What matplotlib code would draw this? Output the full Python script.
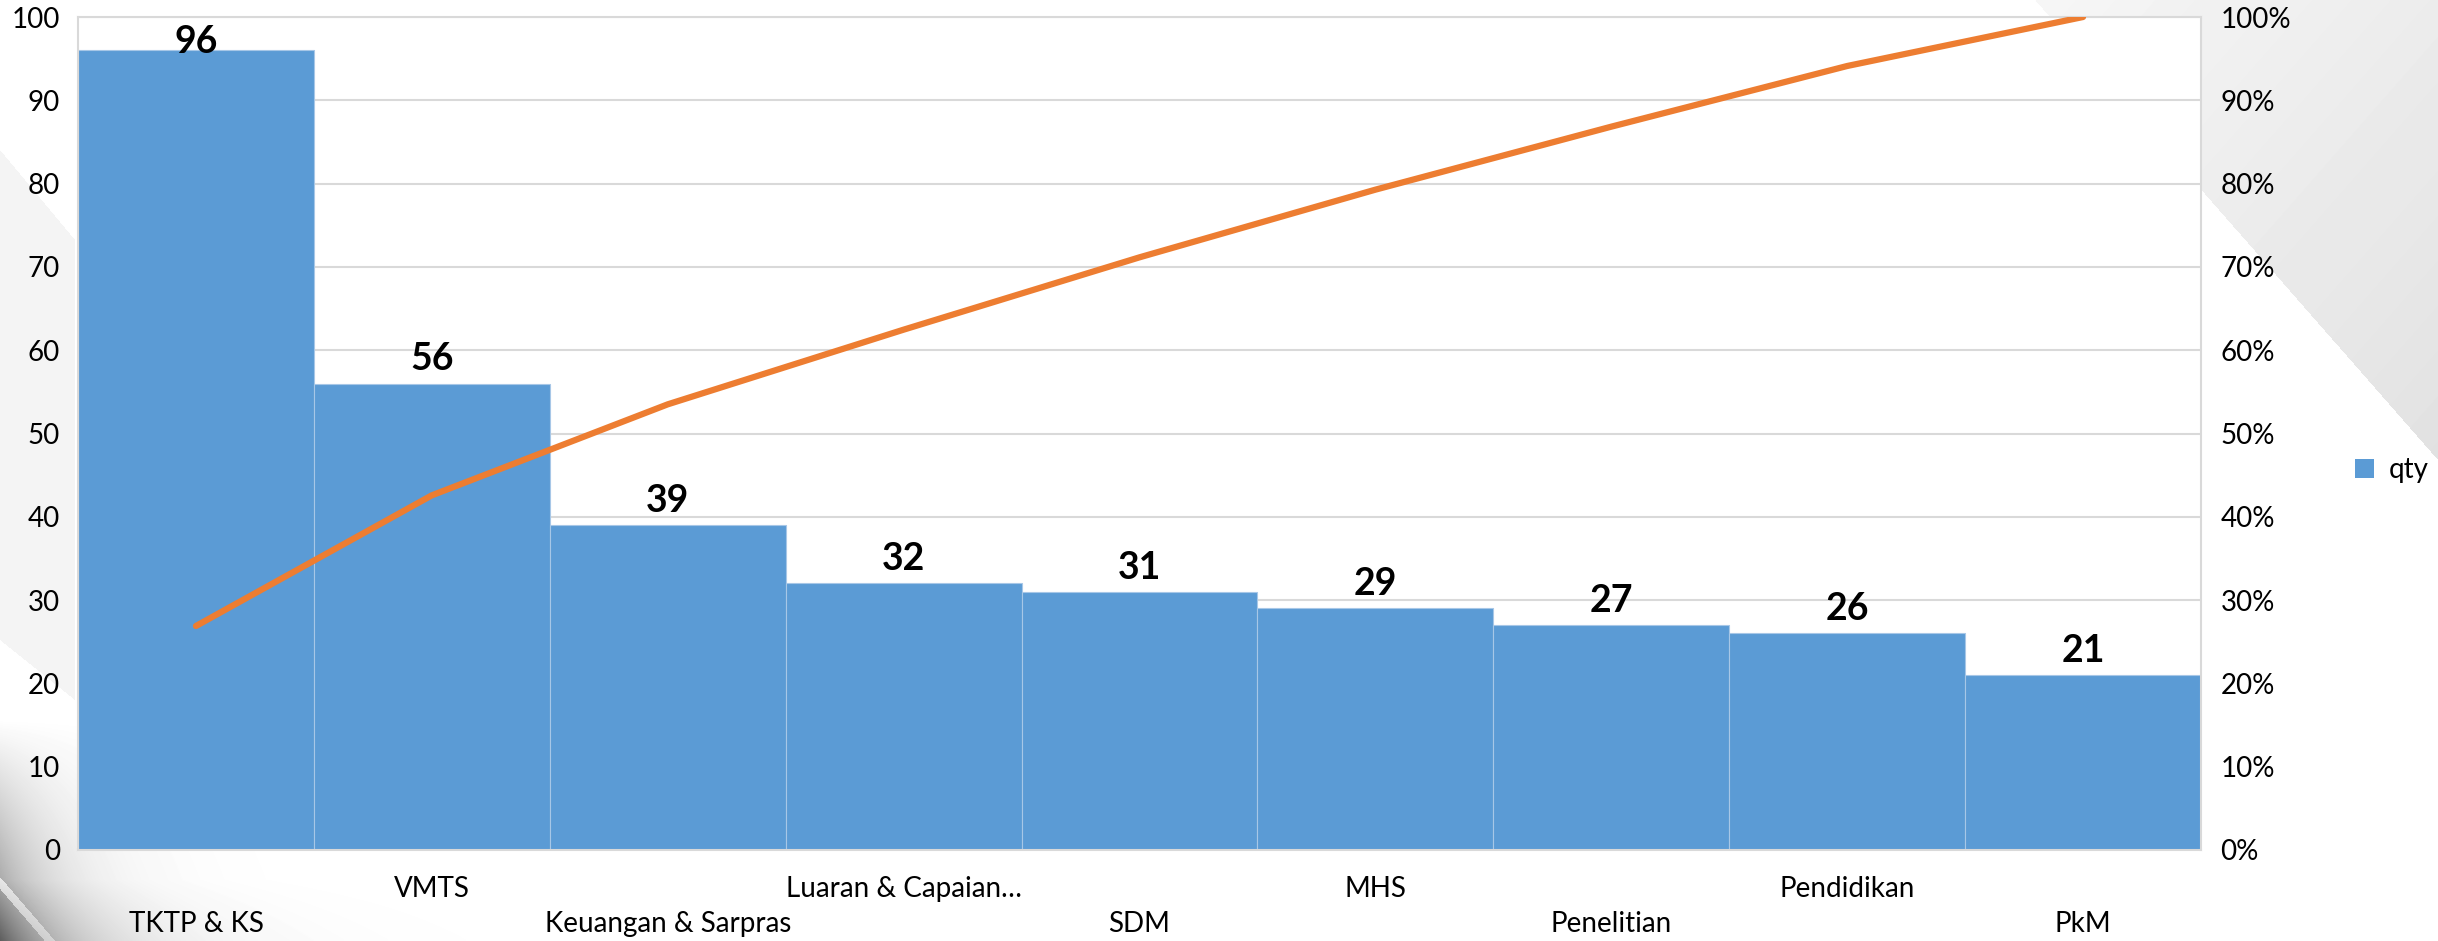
import numpy as np
import matplotlib.pyplot as plt
from matplotlib.patches import Patch
from matplotlib.ticker import PercentFormatter

# data
categories = ['TKTP & KS', 'VMTS', 'Keuangan & Sarpras', 'Luaran & Capaian…',
              'SDM', 'MHS', 'Penelitian', 'Pendidikan', 'PkM']
qty = [96, 56, 39, 32, 31, 29, 27, 26, 21]

BAR_COLOR = '#5B9BD5'
LINE_COLOR = '#ED7D31'
GRID_COLOR = '#D9D9D9'

plt.rcParams['font.family'] = ['Lato', 'DejaVu Sans']

W, H = 2438, 941
fig = plt.figure(figsize=(W / 100, H / 100), dpi=100)

# slide background decoration (grey wedges)
bg = fig.add_axes([0, 0, 1, 1], zorder=-10)
bg.axis('off')
yy, xx = np.mgrid[0:H, 0:W].astype(float)
img = np.ones((H, W))
wedge = yy < (xx - 2035) * 460.0 / 403.0
img[wedge] = (0.965 - 0.08 * ((xx - 2035) / 403.0 + yy / 460.0) / 2)[wedge]
band = (xx < 75) & (yy > 150 + xx * 1.2) & (yy < 640 + xx * 0.8)
img[band] = np.minimum(img[band], 0.955)
corner = 0.45 * np.exp(-xx / 60.0) * np.clip((yy - 720) / 220.0, 0, 1)
stripe = np.abs((yy - 883) - xx * 58.0 / 50.0) < 6
corner[stripe] *= 0.3
corner += 0.18 * np.exp(-xx / 120.0) * np.clip((yy - 880) / 60.0, 0, 1)
img = np.clip(img - corner, 0, 1)
bg.imshow(img, cmap='gray', vmin=0, vmax=1, extent=[0, 1, 0, 1],
          aspect='auto', interpolation='bilinear')

ax = fig.add_axes([78 / W, 1 - 850 / H, (2201 - 78) / W, (850 - 17) / H])
ax.set_facecolor('white')
x = np.arange(len(categories))
ax.bar(x, qty, width=1.0, color=BAR_COLOR, edgecolor='#A7C7E7',
       linewidth=0.8, zorder=2)
ax.set_xlim(-0.5, len(categories) - 0.5)
ax.set_ylim(0, 100)
ax.set_yticks(np.arange(0, 101, 10))
ax.grid(axis='y', color=GRID_COLOR, linewidth=1.5, zorder=0)
ax.set_axisbelow(True)
for s in ax.spines.values():
    s.set_color(GRID_COLOR)
    s.set_linewidth(1.5)
ax.tick_params(axis='y', length=0, pad=13, labelsize=20, labelcolor='#000000')
ax.set_xticks(x)
ax.set_xticklabels([])
ax.tick_params(axis='x', length=0)

# staggered category labels
for i, name in enumerate(categories):
    off = -28 if i % 2 == 1 else -53
    ax.annotate(name, xy=(i, 0), xycoords=('data', 'axes fraction'),
                xytext=(0, off), textcoords='offset points',
                ha='center', va='center', fontsize=20, color='#000000')

# value labels
for i, v in enumerate(qty):
    ax.text(i, min(v + 2.9, 97), str(v), ha='center', va='center',
            fontsize=27, fontweight='bold', color='#000000', zorder=5)

# cumulative percentage line
cum = np.cumsum(qty) / np.sum(qty)
ax2 = ax.twinx()
ax2.plot(x, cum, color=LINE_COLOR, linewidth=4.5, solid_capstyle='round',
         zorder=4)
ax2.set_ylim(0, 1)
ax2.set_yticks(np.arange(0, 1.01, 0.1))
ax2.yaxis.set_major_formatter(PercentFormatter(1.0, decimals=0))
ax2.tick_params(axis='y', length=0, pad=14, labelsize=20, labelcolor='#000000')
for s in ax2.spines.values():
    s.set_visible(False)

fig.legend(handles=[Patch(facecolor=BAR_COLOR, label='qty')],
           loc='center left', bbox_to_anchor=(2330 / W, 1 - 470 / H),
           frameon=False, fontsize=20, handlelength=0.7, handleheight=0.7,
           handletextpad=0.5)

fig.savefig('out.png', dpi=100)
